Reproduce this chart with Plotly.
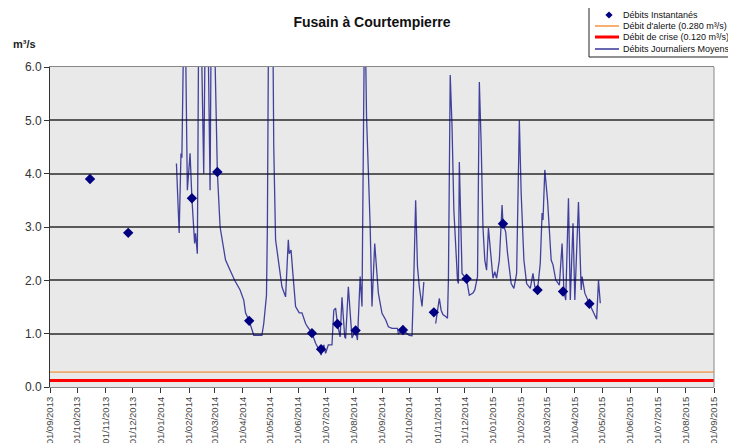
import plotly.graph_objects as go

# ---------------- data ----------------
inst_dates = ["2013-10-15", "2013-11-26", "2014-02-04", "2014-03-04", "2014-04-08",
              "2014-06-16", "2014-06-26", "2014-07-14", "2014-08-03", "2014-09-24",
              "2014-10-28", "2014-12-03", "2015-01-12", "2015-02-19", "2015-03-19",
              "2015-04-17"]
inst_values = [3.90, 2.89, 3.54, 4.03, 1.24,
               1.01, 0.71, 1.18, 1.06, 1.07,
               1.40, 2.03, 3.06, 1.82, 1.79,
               1.56]

daily_dates = [
    "2014-01-18", "2014-01-21", "2014-01-23", "2014-01-24", "2014-01-27", "2014-01-30",
    "2014-02-02", "2014-02-04", "2014-02-07", "2014-02-08", "2014-02-10", "2014-02-12",
    "2014-02-14", "2014-02-17", "2014-02-20", "2014-02-24", "2014-02-26", "2014-03-04",
    "2014-03-07", "2014-03-13", "2014-03-18", "2014-03-23", "2014-03-29", "2014-04-02",
    "2014-04-04", "2014-04-08", "2014-04-13", "2014-04-22", "2014-04-24", "2014-04-26",
    "2014-04-27", "2014-04-28", "2014-04-30", "2014-05-03", "2014-05-05", "2014-05-07",
    "2014-05-11", "2014-05-14", "2014-05-18", "2014-05-21", "2014-05-22", "2014-05-24",
    "2014-05-26", "2014-05-29", "2014-06-02", "2014-06-05", "2014-06-09", "2014-06-11",
    "2014-06-16", "2014-06-20", "2014-06-24", "2014-06-26", "2014-06-29", "2014-07-01",
    "2014-07-04", "2014-07-08", "2014-07-10", "2014-07-12", "2014-07-14", "2014-07-17",
    "2014-07-19", "2014-07-22", "2014-07-23", "2014-07-26", "2014-07-30", "2014-08-03",
    "2014-08-05", "2014-08-08", "2014-08-10", "2014-08-11", "2014-08-13", "2014-08-15",
    "2014-08-19", "2014-08-21", "2014-08-24", "2014-08-28", "2014-09-01", "2014-09-05",
    "2014-09-08", "2014-09-12", "2014-09-18", "2014-09-19", "2014-09-24", "2014-10-01",
    "2014-10-04", "2014-10-06", "2014-10-08", "2014-10-10", "2014-10-12", "2014-10-15",
    "2014-10-17", "2014-10-23", "2014-10-30", "2014-11-03", "2014-11-05", "2014-11-07",
    "2014-11-10", "2014-11-12", "2014-11-13", "2014-11-15", "2014-11-17", "2014-11-19",
    "2014-11-23", "2014-11-24", "2014-11-25", "2014-11-27", "2014-11-28", "2014-12-03",
    "2014-12-06", "2014-12-10", "2014-12-12", "2014-12-15", "2014-12-17", "2014-12-19",
    "2014-12-21", "2014-12-23", "2014-12-25", "2014-12-27", "2014-12-30", "2015-01-01",
    "2015-01-03", "2015-01-05", "2015-01-08", "2015-01-11", "2015-01-12", "2015-01-15",
    "2015-01-17", "2015-01-21", "2015-01-24", "2015-01-27", "2015-01-30", "2015-02-01",
    "2015-02-04", "2015-02-07", "2015-02-11", "2015-02-14", "2015-02-16", "2015-02-19",
    "2015-02-22", "2015-02-24", "2015-02-25", "2015-02-27", "2015-03-02", "2015-03-06",
    "2015-03-08", "2015-03-11", "2015-03-15", "2015-03-18", "2015-03-20", "2015-03-22",
    "2015-03-25", "2015-03-27", "2015-03-30", "2015-04-01", "2015-04-05", "2015-04-07",
    "2015-04-08", "2015-04-09", "2015-04-12", "2015-04-17", "2015-04-21", "2015-04-25",
    "2015-04-27", "2015-04-29"]
daily_values = [
    4.19, 2.89, 4.38, 4.30, 8.00, 3.69,
    4.38, 3.54, 2.69, 2.88, 2.50, 8.50,
    7.00, 4.00, 9.00, 3.69, 9.00, 4.03,
    3.00, 2.38, 2.19, 2.00, 1.82, 1.63,
    1.39, 1.24, 0.97, 0.97, 1.19, 1.66,
    1.72, 3.00, 9.00, 9.00, 4.50, 2.76,
    2.26, 1.88, 1.69, 2.76, 2.50, 2.57,
    2.13, 1.51, 1.39, 1.39, 1.19, 1.13,
    1.01, 0.82, 0.69, 0.60, 0.79, 0.63,
    0.79, 0.79, 1.44, 1.48, 1.18, 0.94,
    1.68, 0.94, 0.91, 1.88, 0.92, 1.06,
    0.88, 2.07, 1.51, 4.00, 7.50, 5.07,
    3.00, 1.51, 2.69, 1.76, 1.38, 1.26,
    1.13, 1.10, 1.10, 1.00, 1.06, 0.97,
    0.96, 2.07, 3.50, 2.26, 1.88, 1.51,
    1.97, None, 1.19, 1.66, 1.44, 1.36,
    1.32, 1.29, 2.00, 5.85, 4.88, 3.32,
    2.00, 1.94, 4.22, 3.00, 2.13, 2.02,
    1.72, 1.76, 1.82, 2.07, 5.72, 4.57,
    3.00, 2.38, 2.19, 2.98, 2.38, 2.04,
    2.16, 2.04, 2.38, 3.41, 3.05, 2.91,
    2.51, 1.94, 1.85, 2.13, 5.00, 3.63,
    2.38, 1.94, 1.85, 2.13, 1.88, 1.82,
    2.32, 3.26, 3.13, 4.07, 3.50, 2.38,
    2.29, 2.01, 1.91, 2.69, 1.79, 1.63,
    3.54, 1.63, 3.07, 1.63, 3.47, 2.44,
    1.82, 2.07, 1.76, 1.56, 1.41, 1.27,
    2.00, 1.57]

period = ["2013-09-01", "2015-09-01"]
alert_level = 0.280
crisis_level = 0.120

title_text = "Fusain à Courtempierre"
unit_text = "m³/s"
legend_labels = ["Débits Instantanés", "Débit d'alerte (0.280 m³/s)",
                 "Débit de crise (0.120 m³/s)", "Débits Journaliers Moyens"]

# ---------------- styling ----------------
# The page body has an 8px margin, so the figure is drawn 8px in from the
# window's top-left corner; the figure is sized to fill the rest of the window.
OFF = 8
WIN_W, WIN_H = 736, 443
W, H = WIN_W - OFF, WIN_H - OFF
# plot area in window pixels
PL, PR, PT, PB = 50, 714, 67, 387
FONT = "Arial, Liberation Sans, sans-serif"
NAVY = "#000080"
ORANGE = "#f47a10"


def px(x):
    return (x - PL) / (PR - PL)


def py(y):
    return (PB - y) / (PB - PT)


fig = go.Figure()

fig.add_trace(go.Scatter(x=period, y=[alert_level] * 2, mode="lines",
                         line=dict(color=ORANGE, width=1), hoverinfo="skip"))
fig.add_trace(go.Scatter(x=period, y=[crisis_level] * 2, mode="lines",
                         line=dict(color="#ff0000", width=3), hoverinfo="skip"))
fig.add_trace(go.Scatter(x=daily_dates, y=daily_values, mode="lines",
                         connectgaps=False,
                         line=dict(color="rgba(0,0,128,0.72)", width=1.3)))
fig.add_trace(go.Scatter(x=inst_dates, y=inst_values, mode="markers",
                         marker=dict(symbol="diamond", size=8, color=NAVY)))

fig.update_layout(
    template="none",
    width=W, height=H,
    margin=dict(l=PL - OFF, r=W - (PR - OFF), t=PT - OFF, b=H - (PB - OFF), autoexpand=False),
    paper_bgcolor="white",
    plot_bgcolor="#e9e9e9",
    showlegend=False,
    font=dict(family=FONT, color="#333333"),
    title=dict(text="<b>" + title_text + "</b>", x=(372 - OFF) / W, xanchor="center",
               y=1 - (22 - OFF) / H, yanchor="middle", yref="container",
               font=dict(size=14, color="#111111", family=FONT)),
)

fig.update_xaxes(
    type="date", range=period, tick0=period[0], dtick="M1",
    tickformat="%d/%m/%Y", tickangle=-90, automargin=False,
    tickfont=dict(size=9.5, color="#444444", family=FONT),
    ticks="outside", ticklen=5, tickcolor="#333333",
    showgrid=False, zeroline=False,
    showline=True, linecolor="#888888", linewidth=1, mirror=True,
)
fig.update_yaxes(
    range=[0, 6], dtick=1, tickformat=".1f", automargin=False,
    tickfont=dict(size=12, color="#333333", family=FONT),
    ticks="outside", ticklen=5, tickcolor="#333333",
    showgrid=True, gridcolor="#5a5a5a", gridwidth=1.5,
    zeroline=False,
    showline=True, linecolor="#333333", linewidth=1, mirror=False,
)

# right border of plot area
fig.add_shape(type="line", xref="paper", yref="paper", x0=1, x1=1, y0=0, y1=1,
              line=dict(color="#888888", width=1))

# unit label
fig.add_annotation(text="<b>" + unit_text + "</b>", xref="paper", yref="paper",
                   x=px(24), y=py(44), xanchor="center", yanchor="middle",
                   showarrow=False, font=dict(size=11, color="#222222", family=FONT))

# ---------------- manual legend ----------------
fig.add_shape(type="rect", xref="paper", yref="paper",
              x0=px(589), x1=px(745), y0=py(57), y1=py(-5),
              line=dict(color="#222222", width=1), fillcolor="white", layer="above")

rows_y = [15, 26, 37, 49]
sx0, sx1, tx = 595, 619, 621
cx, cy, d = 609, rows_y[0], 3.6
fig.add_shape(type="path", xref="paper", yref="paper",
              path=f"M {px(cx)},{py(cy - d)} L {px(cx + d)},{py(cy)} L {px(cx)},{py(cy + d)} L {px(cx - d)},{py(cy)} Z",
              fillcolor=NAVY, line=dict(color=NAVY, width=0), layer="above")
line_styles = [None, (ORANGE, 1.2), ("#ff0000", 3), (NAVY, 1.2)]
for i, (label, yy) in enumerate(zip(legend_labels, rows_y)):
    st = line_styles[i]
    if st is not None:
        fig.add_shape(type="line", xref="paper", yref="paper",
                      x0=px(sx0), x1=px(sx1), y0=py(yy), y1=py(yy),
                      line=dict(color=st[0], width=st[1]), layer="above")
    fig.add_annotation(text=label, xref="paper", yref="paper",
                       x=px(tx), y=py(yy), xanchor="left", yanchor="middle",
                       showarrow=False,
                       font=dict(size=9, color="#111111", family=FONT))

fig.write_html("out.html")
